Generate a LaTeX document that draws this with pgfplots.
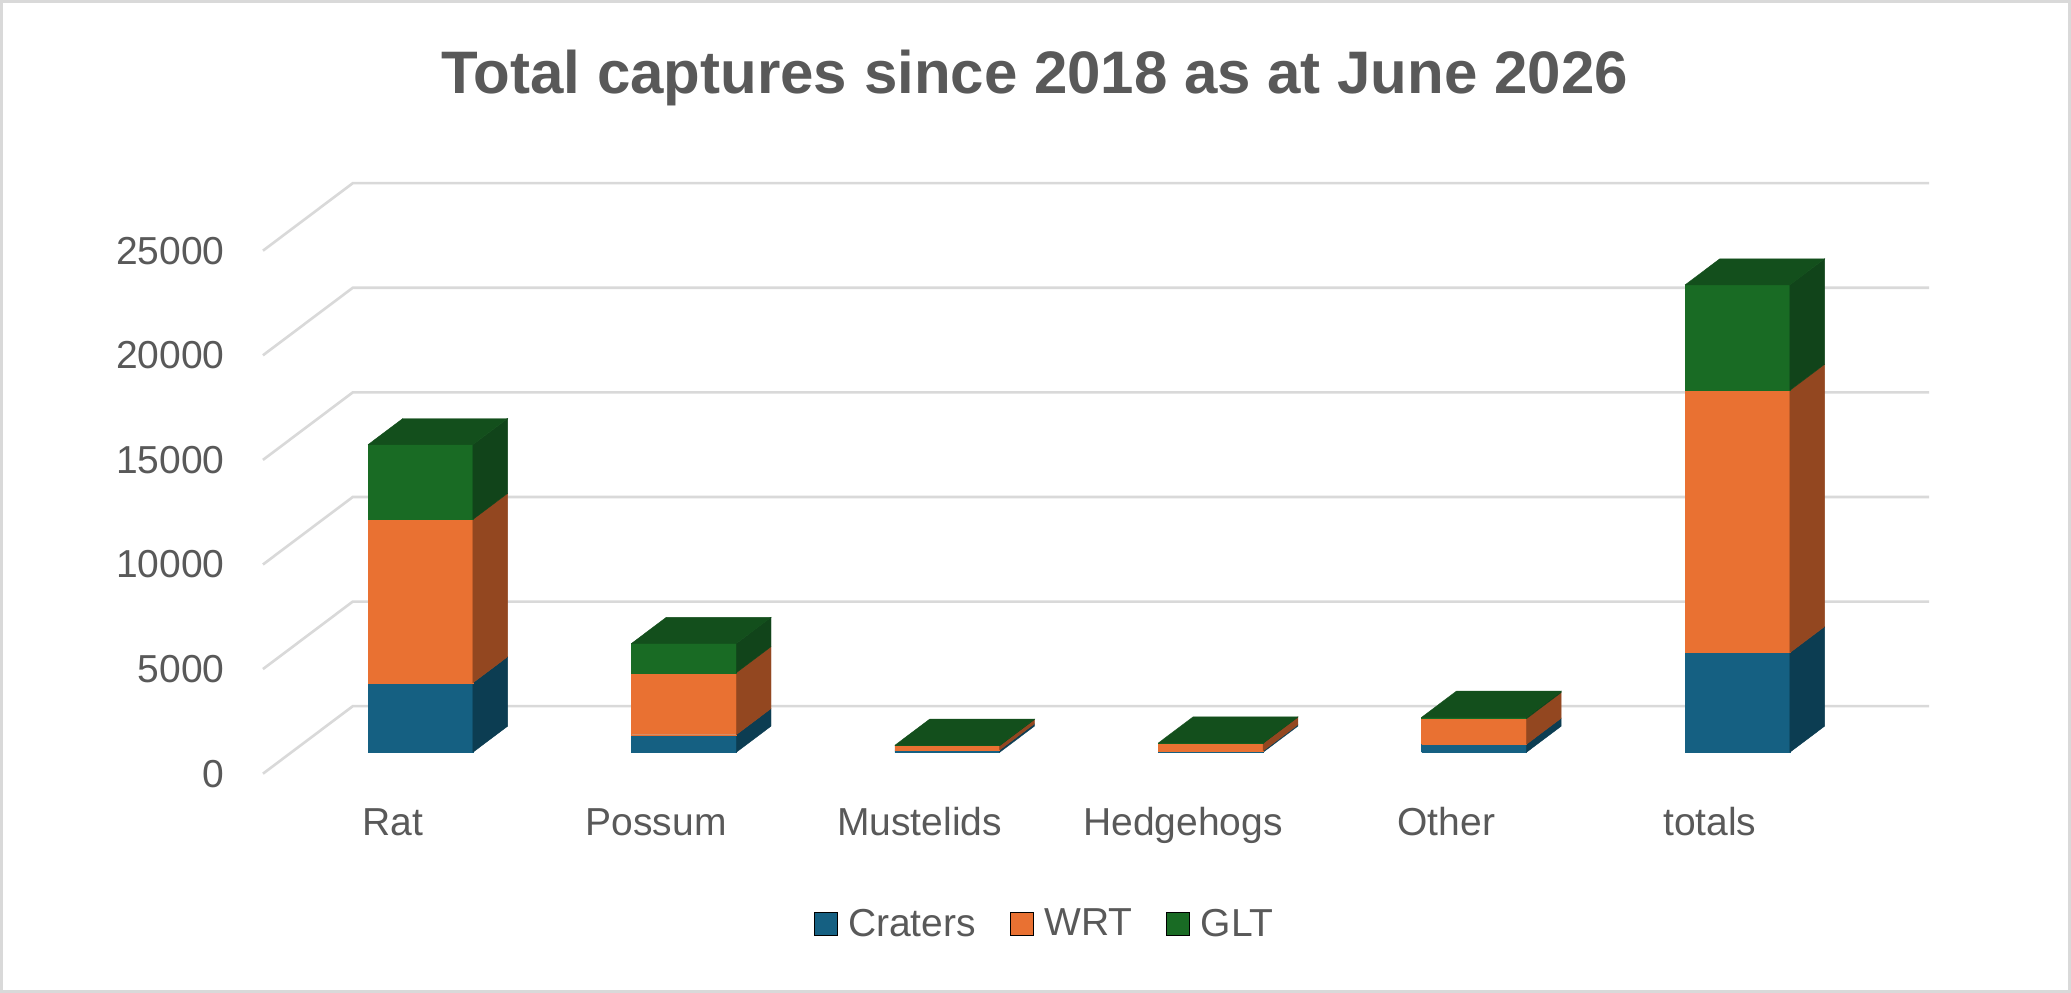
\documentclass[border=0pt]{standalone}
\usepackage{pgfplots}
\pgfplotsset{compat=1.18}
\usepackage{pgfplotstable}
\usepackage{fontspec}
\setmainfont{Liberation Sans}
\definecolor{txt}{HTML}{595959}
\definecolor{gridc}{HTML}{D9D9D9}
\definecolor{cratF}{HTML}{156082}
\definecolor{cratS}{HTML}{0C3D52}
\definecolor{wrtF}{HTML}{E97132}
\definecolor{wrtS}{HTML}{934720}
\definecolor{gltF}{HTML}{196B24}
\definecolor{gltS}{HTML}{11441A}
\definecolor{gltT}{HTML}{134F1C}

% captures per category and trap group
\pgfplotstableread{
x crat wrt glt
0 3320 7810 3575
1 840 2960 1400
2 111 207 15
3 64 366 10
4 382 1225 65
5 4761 12537 5041
}\data

\newcommand\hw{0.199}
\newcommand\ddx{0.132}
\newcommand\ddy{1.25}

\newcommand\seg[6]{%
 \pgfmathsetmacro\sxr{#2+\ddx}%
 \pgfmathsetmacro\sylo{#3+\ddy}%
 \pgfmathsetmacro\syhi{#4+\ddy}%
 \edef\tmp{\noexpand\addplot[fill=#5,draw=#5,line width=0.2bp,forget plot] coordinates {(#1,#3) (#2,#3) (#2,#4) (#1,#4) (#1,#3)};
   \noexpand\addplot[fill=#6,draw=#6,line width=0.2bp,forget plot] coordinates {(#2,#3) (\sxr,\sylo) (\sxr,\syhi) (#2,#4) (#2,#3)};}%
 \tmp}

\newcommand\drawbar[1]{%
 \pgfplotstablegetelem{#1}{x}\of\data\pgfmathsetmacro\bx{\pgfplotsretval}%
 \pgfplotstablegetelem{#1}{crat}\of\data\pgfmathsetmacro\va{\pgfplotsretval/1000}%
 \pgfplotstablegetelem{#1}{wrt}\of\data\pgfmathsetmacro\vb{\va+\pgfplotsretval/1000}%
 \pgfplotstablegetelem{#1}{glt}\of\data\pgfmathsetmacro\vc{\vb+\pgfplotsretval/1000}%
 \pgfmathsetmacro\xl{\bx-\hw}\pgfmathsetmacro\xr{\bx+\hw}%
 \seg{\xl}{\xr}{0}{\va}{cratF}{cratS}%
 \seg{\xl}{\xr}{\va}{\vb}{wrtF}{wrtS}%
 \seg{\xl}{\xr}{\vb}{\vc}{gltF}{gltS}%
 \pgfmathsetmacro\xll{\xl+\ddx}\pgfmathsetmacro\xrr{\xr+\ddx}\pgfmathsetmacro\vt{\vc+\ddy}%
 \edef\tmp{\noexpand\addplot[fill=gltT,draw=gltT,line width=0.2bp,forget plot] coordinates {(\xl,\vc) (\xr,\vc) (\xrr,\vt) (\xll,\vt) (\xl,\vc)};}%
 \tmp}

\begin{document}
\begin{tikzpicture}
\useasboundingbox (0,0) rectangle (1035.5bp,496.5bp);
\fill[white] (0,0) rectangle (1035.5bp,496.5bp);
\draw[gridc, line width=1.5bp] (0.75bp,0.75bp) rectangle (1034.75bp,495.75bp);
\node[anchor=base, font=\fontsize{30bp}{35bp}\selectfont\bfseries, text=txt] at (517.4bp,449.5bp) {Total captures since 2018 as at June 2026};
\begin{axis}[
  at={(145.7bp,108.85bp)}, anchor=south west,
  scale only axis, width=788.2bp, height=297.06bp,
  xmin=-0.49, xmax=5.495, ymin=-1.1, ymax=27.3,
  clip=false,
  axis line style={draw=none},
  tick style={draw=none}, major tick length=0pt,
  xtick={-0.105,0.895,1.895,2.895,3.895,4.895},
  xticklabels={Rat,Possum,Mustelids,Hedgehogs,Other,totals},
  ytick={-1.023,3.977,8.977,13.977,18.977,23.977},
  yticklabels={0,5000,10000,15000,20000,25000},
  ticklabel style={font=\fontsize{19.5bp}{23bp}\selectfont, text=txt},
  xticklabel style={anchor=base, inner sep=0pt, yshift=-30.3bp},
  yticklabel style={anchor=east, inner sep=0pt, xshift=-33.2bp},
  /pgf/number format/assume math mode=true,
  legend columns=3,
  legend cell align=left,
  legend image code/.code={\fill[#1] (0bp,-5.75bp) rectangle (11.5bp,5.75bp); \path (14.8bp,0bp);},
  legend style={at={(0.4785,-0.2503)}, anchor=center, draw=none, fill=none,
    font=\fontsize{19.5bp}{23bp}\selectfont, text=txt,
    /tikz/every even column/.append style={column sep=15bp}},
]
\addlegendimage{fill=cratF}\addlegendentry{Craters}
\addlegendimage{fill=wrtF}\addlegendentry{WRT}
\addlegendimage{fill=gltF}\addlegendentry{GLT}
% back wall gridlines with floor diagonals
\addplot[gridc, line width=1.3bp, forget plot] coordinates {(-0.598,-1.023) (-0.257,2.204) (5.728,2.204)};
\addplot[gridc, line width=1.3bp, forget plot] coordinates {(-0.598,3.977) (-0.257,7.204) (5.728,7.204)};
\addplot[gridc, line width=1.3bp, forget plot] coordinates {(-0.598,8.977) (-0.257,12.204) (5.728,12.204)};
\addplot[gridc, line width=1.3bp, forget plot] coordinates {(-0.598,13.977) (-0.257,17.204) (5.728,17.204)};
\addplot[gridc, line width=1.3bp, forget plot] coordinates {(-0.598,18.977) (-0.257,22.204) (5.728,22.204)};
\addplot[gridc, line width=1.3bp, forget plot] coordinates {(-0.598,23.977) (-0.257,27.204) (5.728,27.204)};
\drawbar{0}
\drawbar{1}
\drawbar{2}
\drawbar{3}
\drawbar{4}
\drawbar{5}
\end{axis}
\end{tikzpicture}
\end{document}
